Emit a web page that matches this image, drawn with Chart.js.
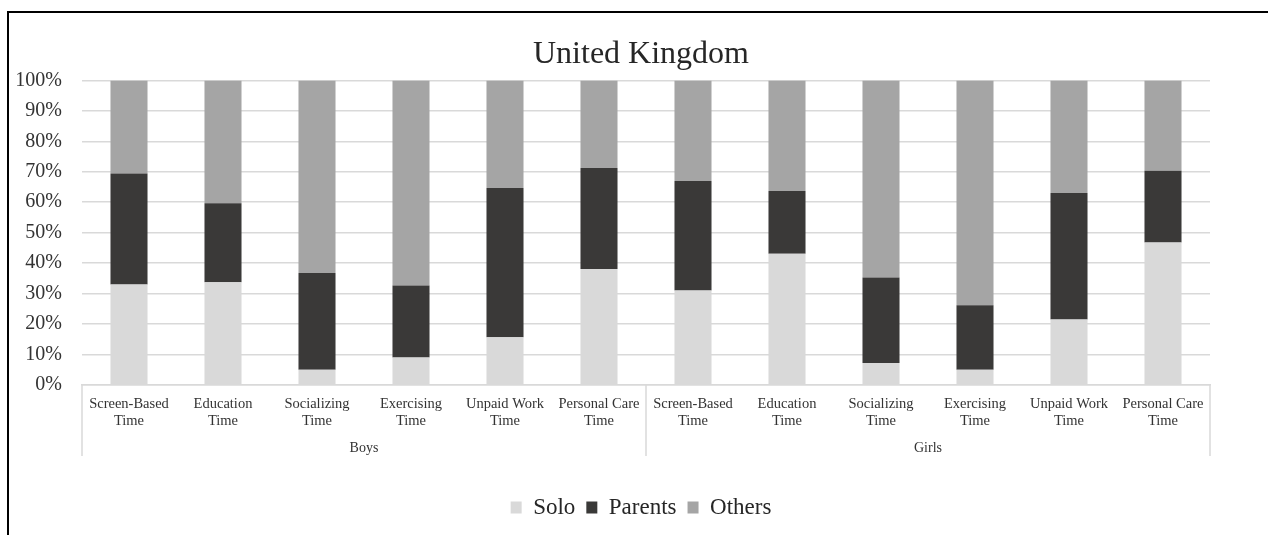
<!DOCTYPE html>
<html>
<head>
<meta charset="utf-8">
<script src="https://cdn.jsdelivr.net/npm/chart.js@4/dist/chart.umd.min.js"></script>
<style>
  body { margin: 0; background: #fff; }
  #wrap { position: relative; width: 1268px; height: 535px; }
  #frame {
    position: absolute; left: 7px; top: 11px; width: 1261px; height: 524px;
    box-sizing: border-box; border-top: 2px solid #000; border-left: 2px solid #000;
    pointer-events: none;
  }
</style>
</head>
<body>
<div id="wrap">
  <canvas id="ukChart"></canvas>
  <div id="frame"></div>
</div>
<script>
const activities = [
  ["Screen-Based", "Time"], ["Education", "Time"], ["Socializing", "Time"],
  ["Exercising", "Time"], ["Unpaid Work", "Time"], ["Personal Care", "Time"]
];
const categories = activities.concat(activities);
const groups = ["Boys", "Girls"];

// share of time (%) spent with each companion type
const solo = [33.0, 33.7, 5.0, 9.0, 15.7, 38.1, 31.0, 43.1, 7.2, 5.0, 21.5, 46.8];
const parents = [36.4, 26.0, 31.8, 23.7, 49.0, 33.1, 36.0, 20.6, 28.1, 21.2, 41.5, 23.5];
const others = [30.6, 40.3, 63.2, 67.3, 35.3, 28.8, 33.0, 36.3, 64.7, 73.8, 37.0, 29.7];

const yTicks = [0, 10, 20, 30, 40, 50, 60, 70, 80, 90, 100];

const serif = "'Liberation Serif', 'Times New Roman', serif";
const gridGrey = "#d9d9d9";
const textColor = "#333333";

// vertical separators under the axis: outer edges and the Boys/Girls split
const groupDividers = {
  id: "groupDividers",
  afterDraw(chart) {
    const x = chart.scales.x;
    const g = chart.scales.group;
    const mid = (x.getPixelForValue(5) + x.getPixelForValue(6)) / 2;
    const ctx = chart.ctx;
    ctx.save();
    ctx.strokeStyle = gridGrey;
    ctx.lineWidth = 1.5;
    [x.left, mid, x.right].forEach(px => {
      ctx.beginPath();
      ctx.moveTo(px, x.top);
      ctx.lineTo(px, g.top + 26);
      ctx.stroke();
    });
    ctx.restore();
  }
};

const bar = (label, data, color) => ({
  label,
  data,
  backgroundColor: color,
  borderWidth: 0,
  xAxisID: "x",
  yAxisID: "y",
  categoryPercentage: 1,
  barPercentage: 0.394
});

new Chart(document.getElementById("ukChart"), {
  type: "bar",
  data: {
    labels: categories,
    datasets: [
      bar("Solo", solo, "#d9d9d9"),
      bar("Parents", parents, "#3a3938"),
      bar("Others", others, "#a5a5a5")
    ]
  },
  plugins: [groupDividers],
  options: {
    responsive: true,
    maintainAspectRatio: false,
    animation: false,
    layout: { padding: { left: 14, right: 0, top: 0, bottom: 6 } },
    plugins: {
      title: {
        display: true,
        text: "United Kingdom",
        color: "#262626",
        font: { family: serif, size: 32, weight: "normal" },
        padding: { top: 35, bottom: 7 }
      },
      legend: {
        position: "bottom",
        labels: {
          color: "#262626",
          font: { family: serif, size: 23 },
          boxWidth: 11,
          boxHeight: 12,
          padding: 11
        }
      },
      tooltip: { enabled: false }
    },
    scales: {
      x: {
        stacked: true,
        weight: 0,
        grid: { display: false },
        border: { display: true, color: gridGrey, width: 1.5 },
        ticks: {
          color: textColor,
          font: { family: serif, size: 14.5 },
          padding: 2,
          maxRotation: 0,
          autoSkip: false
        },
        afterFit: s => { s.height = 45; }
      },
      group: {
        type: "category",
        axis: "x",
        position: "bottom",
        labels: groups,
        offset: true,
        weight: 1,
        grid: { display: false },
        border: { display: false },
        ticks: {
          color: textColor,
          font: { family: serif, size: 14 },
          padding: 2,
          maxRotation: 0
        },
        afterFit: s => { s.height = 55; }
      },
      y: {
        stacked: true,
        min: 0,
        max: 100,
        afterBuildTicks: s => { s.ticks = yTicks.map(v => ({ value: v })); },
        grid: { color: gridGrey, lineWidth: 1.5, drawTicks: false },
        border: { display: false },
        ticks: {
          color: textColor,
          font: { family: serif, size: 20 },
          padding: 20,
          callback: v => v + "%"
        },
        afterFit: s => { s.width = 68; }
      },
      yRight: {
        position: "right",
        display: true,
        grid: { display: false },
        border: { display: false },
        ticks: { display: false },
        afterFit: s => { s.width = 58; }
      }
    }
  }
});
</script>
</body>
</html>
